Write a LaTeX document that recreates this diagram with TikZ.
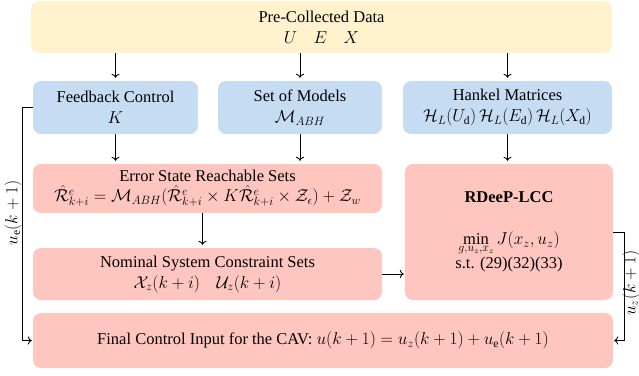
\documentclass[tikz,border=0pt]{standalone}
\usepackage{fontspec}
\setmainfont{Liberation Serif}
\usetikzlibrary{arrows.meta}
\definecolor{cyellow}{HTML}{FFF2CC}
\definecolor{cblue}{HTML}{C6DCF2}
\definecolor{cpink}{HTML}{FFC6C0}
\begin{document}
\begin{tikzpicture}[x=1pt,y=-1pt,
  box/.style={rounded corners=8pt, align=center, inner sep=0pt, font=\fontsize{16.5}{20}\selectfont},
  ybox/.style={box, fill=cyellow},
  bbox/.style={box, fill=cblue},
  pbox/.style={box, fill=cpink},
  arr/.style={-{To[length=4pt,width=8pt]}, line width=0.9pt, shorten >=3pt},
  farr/.style={-{To[length=4pt,width=8pt]}, line width=0.9pt, shorten >=1pt},
  lbl/.style={font=\fontsize{16.5}{20}\selectfont, rotate=90, inner sep=0pt}]
\useasboundingbox (0,0) rectangle (639,375);
\node[ybox, minimum width=581pt, minimum height=52pt] (top) at (321.5,27) {Pre-Collected Data\\[1pt] $U\quad E\quad X$};
\node[bbox, minimum width=165pt, minimum height=53pt] (fb) at (115.5,107.5) {Feedback Control\\[1pt] $K$};
\node[bbox, minimum width=164pt, minimum height=53pt] (models) at (300,107.5) {Set of Models\\[1pt] $\mathcal{M}_{ABH}$};
\node[bbox, minimum width=209pt, minimum height=53pt] (hankel) at (507.5,107.5) {Hankel Matrices\\[1pt] $\mathcal{H}_L(U_\mathrm{d})\,\mathcal{H}_L(E_\mathrm{d})\,\mathcal{H}_L(X_\mathrm{d})$};
\node[pbox, minimum width=349pt, minimum height=49pt] (err) at (207.5,188.5) {Error State Reachable Sets\\[0pt] $\hat{\mathcal{R}}^e_{k+i} = \mathcal{M}_{ABH}\bigl(\hat{\mathcal{R}}^e_{k+i}\times K\hat{\mathcal{R}}^e_{k+i}\times \mathcal{Z}_\epsilon\bigr)+\mathcal{Z}_w$};
\node[pbox, minimum width=349pt, minimum height=52pt] (nom) at (207.5,274) {Nominal System Constraint Sets\\[1pt] $\mathcal{X}_z(k+i)\quad \mathcal{U}_z(k+i)$};
\node[pbox, minimum width=208pt, minimum height=136pt] (rdeep) at (509,232) {\textbf{RDeeP-LCC}\\[22pt] $\displaystyle\min_{g,u_z,x_z} J(x_z,u_z)$\\[1pt] s.t. (29)(32)(33)};
\node[pbox, minimum width=580pt, minimum height=55pt] (final) at (323,340.5) {Final Control Input for the CAV: $u(k+1)=u_z(k+1)+u_\mathrm{e}(k+1)$};
\draw[arr] (top.south -| fb.north) -- (fb.north);
\draw[arr] (top.south -| models.north) -- (models.north);
\draw[arr] (top.south -| hankel.north) -- (hankel.north);
\draw[arr] (fb.south) -- (fb.south |- err.north);
\draw[arr] (models.south) -- (models.south |- err.north);
\draw[arr] (hankel.south) -- (hankel.south |- rdeep.north);
\draw[arr] ([xshift=-5pt]err.south) -- ([xshift=-5pt]err.south |- nom.north);
\draw[farr] (nom.east) -- (nom.east -| rdeep.west);
\draw[farr] (fb.west) -- ++(-10,0) |- (final.west);
\draw[farr] (rdeep.east) -- ++(11,0) |- (final.east);
\node[lbl] (ue) at (13,213) {$u_\mathrm{e}(k+1)$};
\node[lbl] (uz) at (631,283) {$u_z(k+1)$};
\end{tikzpicture}
\end{document}
